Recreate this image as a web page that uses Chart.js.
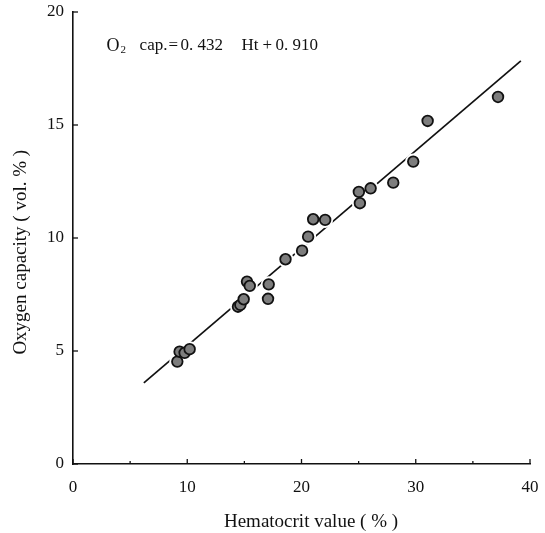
<!DOCTYPE html>
<html>
<head>
<meta charset="utf-8">
<script src="https://cdn.jsdelivr.net/npm/chart.js@4/dist/chart.umd.min.js"></script>
<style>
  html,body{margin:0;padding:0;background:#fff;}
  #wrap{width:545px;height:533px;}
</style>
</head>
<body>
<div id="wrap"><canvas id="chartCanvas" width="545" height="533"></canvas></div>
<script>
//data
const hematocrit = [9.13, 9.33, 9.77, 10.21, 14.44, 14.65, 14.94, 15.23, 15.47, 17.13, 17.07, 18.6, 20.05, 20.58, 21.02, 22.07, 25.11, 25.02, 26.05, 28.03, 29.78, 31.04, 37.2];
const oxygenCap  = [4.53, 4.97, 4.92, 5.08, 6.96, 7.04, 7.29, 8.07, 7.88, 7.95, 7.31, 9.06, 9.44, 10.06, 10.83, 10.8, 11.54, 12.04, 12.2, 12.45, 13.38, 15.18, 16.24];
const lineX = [6.2, 39.2];
const lineY = [3.59, 17.84];
const xTicks = [0, 10, 20, 30, 40];
const yTicks = [0, 5, 10, 15, 20];
//equation pieces: text + horizontal offset from the start
const eqParts = [['cap.', 33], ['=', 62], ['0. 432', 74], ['Ht', 135], ['+', 156], ['0. 910', 169]];

const serif = '"Liberation Serif", "DejaVu Serif", serif';

function toPoints(xs, ys){
    return xs.map((x, i) => ({x: x, y: ys[i]}));
}

//inward tick marks + equation label
const extras = {
    id: 'extras',
    afterDraw(chart){
        const ctx = chart.ctx;
        const xs = chart.scales.x, ys = chart.scales.y;
        const area = chart.chartArea;
        ctx.save();
        ctx.strokeStyle = '#111';
        ctx.lineWidth = 1.3;
        for(let v = 0; v <= 40; v += 5){
            const px = xs.getPixelForValue(v);
            const len = (v % 10 === 0) ? 5 : 3;
            ctx.beginPath();
            ctx.moveTo(px, area.bottom);
            ctx.lineTo(px, area.bottom - len);
            ctx.stroke();
        }
        yTicks.forEach(v => {
            const py = ys.getPixelForValue(v);
            ctx.beginPath();
            ctx.moveTo(area.left, py);
            ctx.lineTo(area.left + 5, py);
            ctx.stroke();
        });
        //equation
        const ex = xs.getPixelForValue(2.94);
        const ey = ys.getPixelForValue(18.5);
        ctx.fillStyle = '#111';
        ctx.textBaseline = 'middle';
        ctx.textAlign = 'left';
        ctx.font = '18px ' + serif;
        ctx.fillText('O', ex, ey);
        ctx.font = '11px ' + serif;
        ctx.fillText('2', ex + 14, ey + 4);
        ctx.font = '17px ' + serif;
        eqParts.forEach(p => ctx.fillText(p[0], ex + p[1], ey));
        ctx.restore();
    }
};

const data = {
    datasets: [
        {
            type: 'scatter',
            label: 'points',
            data: toPoints(hematocrit, oxygenCap),
            pointRadius: 5.3,
            pointBackgroundColor: '#7d7d7d',
            pointBorderColor: '#111',
            pointBorderWidth: 1.8,
            order: 1
        },
        {
            type: 'scatter',
            label: 'halo',
            data: toPoints(hematocrit, oxygenCap),
            pointRadius: 8,
            pointBackgroundColor: '#ffffff',
            pointBorderWidth: 0,
            order: 2
        },
        {
            type: 'line',
            label: 'regression',
            data: toPoints(lineX, lineY),
            borderColor: '#111',
            borderWidth: 1.7,
            pointRadius: 0,
            fill: false,
            order: 3
        }
    ]
};

const config = {
    type: 'scatter',
    data: data,
    options: {
        responsive: false,
        animation: false,
        layout: { padding: { top: 12, right: 15, left: 0, bottom: 0 } },
        plugins: {
            legend: { display: false },
            tooltip: { enabled: false }
        },
        scales: {
            x: {
                type: 'linear',
                min: 0, max: 40,
                afterBuildTicks(scale){ scale.ticks = xTicks.map(v => ({value: v})); },
                afterFit(scale){
                    scale.height = 69;
                    scale.paddingLeft = 0;
                    scale.paddingRight = 0;
                },
                grid: { display: false, drawTicks: false },
                border: { display: true, color: '#111', width: 1.6 },
                ticks: { color: '#111', padding: 13, font: { family: serif, size: 17 } },
                title: {
                    display: true, text: '\u2002\u2002Hematocrit value ( % )', color: '#111',
                    font: { family: serif, size: 19 }, padding: { top: 0, bottom: 0 }
                }
            },
            y: {
                type: 'linear',
                min: 0, max: 20,
                afterBuildTicks(scale){ scale.ticks = yTicks.map(v => ({value: v})); },
                afterFit(scale){
                    scale.width = 73;
                    scale.paddingTop = 0;
                    scale.paddingBottom = 0;
                },
                grid: { display: false, drawTicks: false },
                border: { display: true, color: '#111', width: 1.6 },
                ticks: { color: '#111', padding: 9, font: { family: serif, size: 17 } },
                title: {
                    display: true, text: 'Oxygen capacity ( vol. % )\u2002\u2002\u2002', color: '#111',
                    font: { family: serif, size: 19 }, padding: { top: 10, bottom: 0 }
                }
            }
        }
    },
    plugins: [extras]
};

var myChart = new Chart(document.getElementById('chartCanvas'), config);
</script>
</body>
</html>
